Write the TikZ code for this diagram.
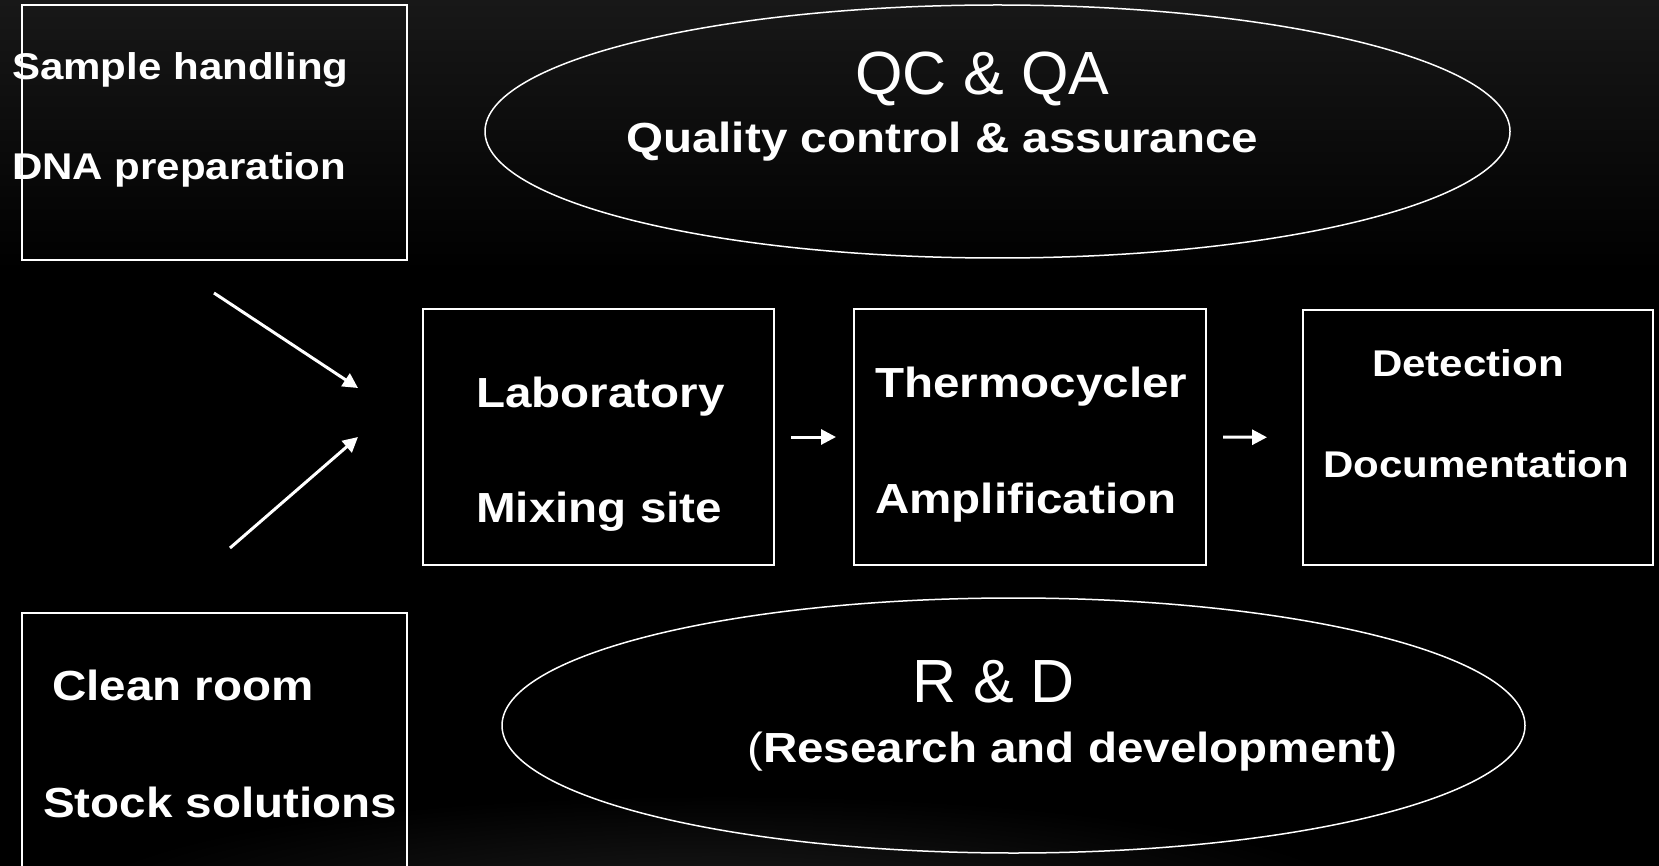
\documentclass[tikz,border=0pt]{standalone}
\usepackage{fontspec}
\setmainfont{Liberation Sans}
\newfontfamily\wideb{Liberation Sans Bold}[FakeStretch=1.13]
\newfontfamily\wider{Liberation Sans}[FakeStretch=1.13]
\usetikzlibrary{arrows.meta,shapes.geometric}
\definecolor{topgray}{RGB}{24,24,24}
\definecolor{glow}{RGB}{28,28,28}
\begin{document}
\begin{tikzpicture}[x=1pt,y=-1pt,
  box/.style={draw=white, line width=2pt, inner sep=0pt, fill=none},
  oval/.style={ellipse, draw=white, line width=1.5pt, inner sep=0pt},
  tbig/.style={text=white, inner sep=0pt, anchor=base west, font=\wideb\fontsize{42.1}{45}\selectfont},
  tsmall/.style={text=white, inner sep=0pt, anchor=base west, font=\wideb\fontsize{37.2}{40}\selectfont},
  ttitle/.style={text=white, inner sep=0pt, anchor=base west, font=\fontsize{61}{64}\selectfont},
  arr/.style={draw=white, line width=3pt, -{Triangle[length=15pt,width=15pt]}}
]
\useasboundingbox (0,0) rectangle (1659,866);
\clip (0,0) rectangle (1659,866);
% background
\fill[black] (0,0) rectangle (1659,866);
\shade[top color=topgray, bottom color=black] (0,0) rectangle (1659,270);
\shade[inner color=glow, outer color=black] (720,905) ellipse [x radius=650, y radius=110];

% boxes
\node[box, minimum width=385pt, minimum height=255pt] (tl) at (214.5,132.5) {};
\node[box, minimum width=385pt, minimum height=300pt] (bl) at (214.5,763) {};
\node[box, minimum width=351pt, minimum height=256pt] (lab) at (598.5,437) {};
\node[box, minimum width=352pt, minimum height=256pt] (thermo) at (1030,437) {};
\node[box, minimum width=350pt, minimum height=255pt] (det) at (1478,437.5) {};

% ellipses
\node[oval, minimum width=1025pt, minimum height=253pt] (qc) at (997.5,131.5) {};
\node[oval, minimum width=1023pt, minimum height=255pt] (rd) at (1013.5,725.5) {};

% texts
\node[tsmall] (t1) at (12,80) {Sample handling};
\node[tsmall] (t2) at (12,180) {DNA preparation};
\node[tbig] (t3) at (52,700) {Clean room};
\node[tbig] (t4) at (43,817) {Stock solutions};
\node[tbig] (t5) at (476,407) {Laboratory};
\node[tbig] (t6) at (476,522) {Mixing site};
\node[tbig] (t7) at (875,397) {Thermocycler};
\node[tbig] (t8) at (875,513) {Amplification};
\node[tsmall] (t9) at (1372,376) {Detection};
\node[tsmall] (t10) at (1323,477) {Documentation};
\node[ttitle] (t11) at (855,95) {QC \& QA};
\node[tbig] (t12) at (626,153) {Quality control \& assurance};
\node[ttitle] (t13) at (912,702) {R \& D};
\node[tbig] (t14) at (747,762) {{\wider(}Research and development)};

% connectors
\coordinate (a1s) at (214,293);
\coordinate (a1e) at (358,388);
\coordinate (a2s) at (230,548);
\coordinate (a2e) at (358,437);
\draw[arr] (a1s) -- (a1e);
\draw[arr] (a2s) -- (a2e);
\draw[arr, shorten <=16pt, shorten >=17pt] (lab) -- (thermo);
\draw[arr, shorten <=16pt, shorten >=35pt] (thermo) -- (det);
\end{tikzpicture}
\end{document}
